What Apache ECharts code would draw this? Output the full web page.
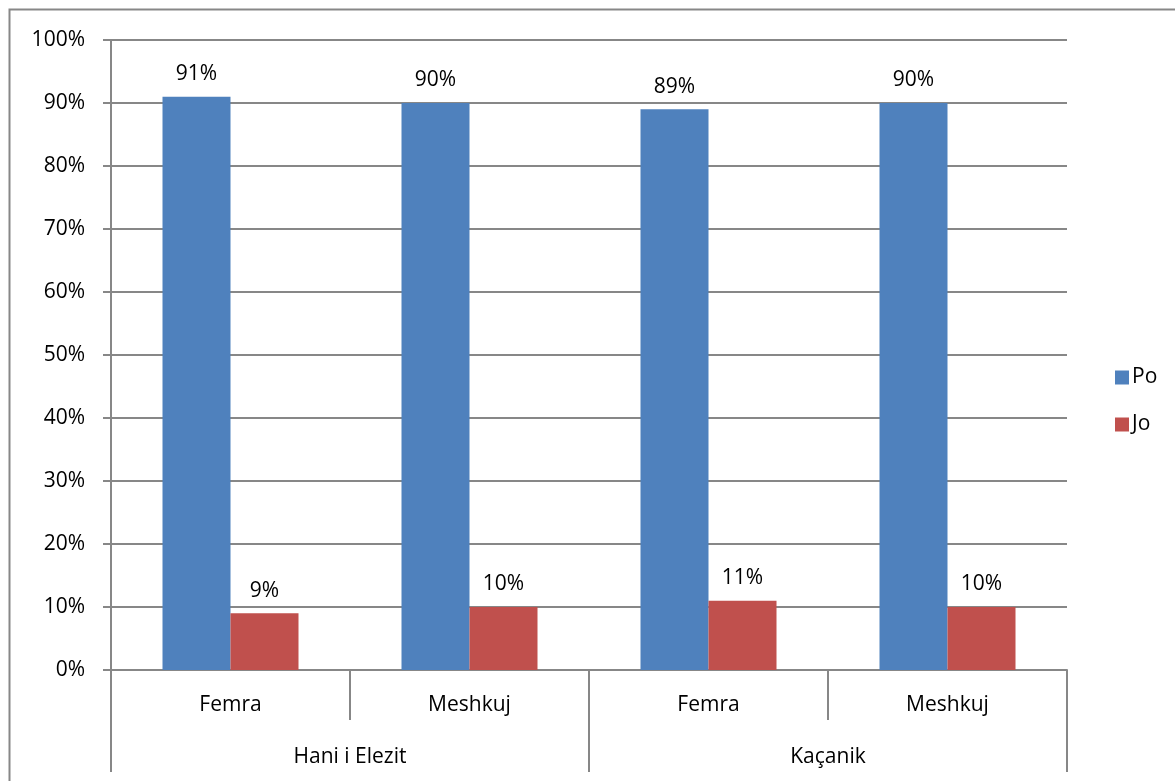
<!DOCTYPE html>
<html>
<head>
<meta charset="utf-8">
<script src="https://cdn.jsdelivr.net/npm/echarts@6/dist/echarts.min.js"></script>
<style>
html, body { margin: 0; padding: 0; background: #fff; }
#chart { width: 1175px; height: 781px; }
</style>
</head>
<body>
<div id="chart"></div>
<script>
var categories = ['Femra', 'Meshkuj', 'Femra', 'Meshkuj'];
var groups = ['Hani i Elezit', 'Kaçanik'];
var poValues = [91, 90, 89, 90];
var joValues = [9, 10, 11, 10];
var yTicks = [0, 10, 20, 30, 40, 50, 60, 70, 80, 90, 100];

var font = '"Open Sans", sans-serif';
var fs = 21;
var gray = '#878787';

var myChart = echarts.init(document.getElementById('chart'));
myChart.setOption({
    animation: false,
    textStyle: { fontFamily: font },
    graphic: [{
        type: 'rect',
        shape: { x: 9.5, y: 9.5, width: 1300, height: 900 },
        style: { fill: 'none', stroke: gray, lineWidth: 2 },
        silent: true
    }],
    legend: {
        orient: 'vertical',
        left: 1110,
        top: 362,
        itemWidth: 14,
        itemHeight: 14,
        itemGap: 26,
        icon: 'rect',
        textStyle: { fontSize: fs, color: '#000', fontFamily: font, padding: [0, 0, 0, -2] },
        data: ['Po', 'Jo']
    },
    grid: { left: 111, right: 108, top: 40, bottom: 111 },
    xAxis: [{
        type: 'category',
        data: categories,
        axisLine: { show: true, lineStyle: { color: gray, width: 2 } },
        axisTick: { show: true, interval: 0, length: 50, lineStyle: { color: gray, width: 2 } },
        axisLabel: { interval: 0, margin: 25, fontSize: fs, color: '#000', fontFamily: font }
    }, {
        type: 'category',
        data: groups,
        position: 'bottom',
        axisLine: { show: false },
        axisTick: { show: true, interval: 0, length: 102, lineStyle: { color: gray, width: 2 } },
        axisLabel: { interval: 0, margin: 77, fontSize: fs, color: '#000', fontFamily: font }
    }],
    yAxis: {
        type: 'value',
        min: yTicks[0],
        max: yTicks[yTicks.length - 1],
        interval: 10,
        axisLine: { show: true, lineStyle: { color: gray, width: 2 } },
        axisTick: { show: true, length: 8, lineStyle: { color: gray, width: 2 } },
        splitLine: { lineStyle: { color: gray, width: 2 } },
        axisLabel: { margin: 26, fontSize: fs, color: '#000', fontFamily: font, formatter: '{value}%' }
    },
    series: [{
        name: 'Po',
        type: 'bar',
        xAxisIndex: 0,
        data: poValues,
        barWidth: 68,
        barGap: '0%',
        itemStyle: { color: '#4F81BD' },
        label: { show: true, position: 'top', distance: 12, fontSize: fs, color: '#000', fontFamily: font, formatter: '{c}%' }
    }, {
        name: 'Jo',
        type: 'bar',
        xAxisIndex: 0,
        data: joValues,
        barWidth: 68,
        barGap: '0%',
        itemStyle: { color: '#C0504D' },
        label: { show: true, position: 'top', distance: 12, fontSize: fs, color: '#000', fontFamily: font, formatter: '{c}%' }
    }]
});
</script>
</body>
</html>
